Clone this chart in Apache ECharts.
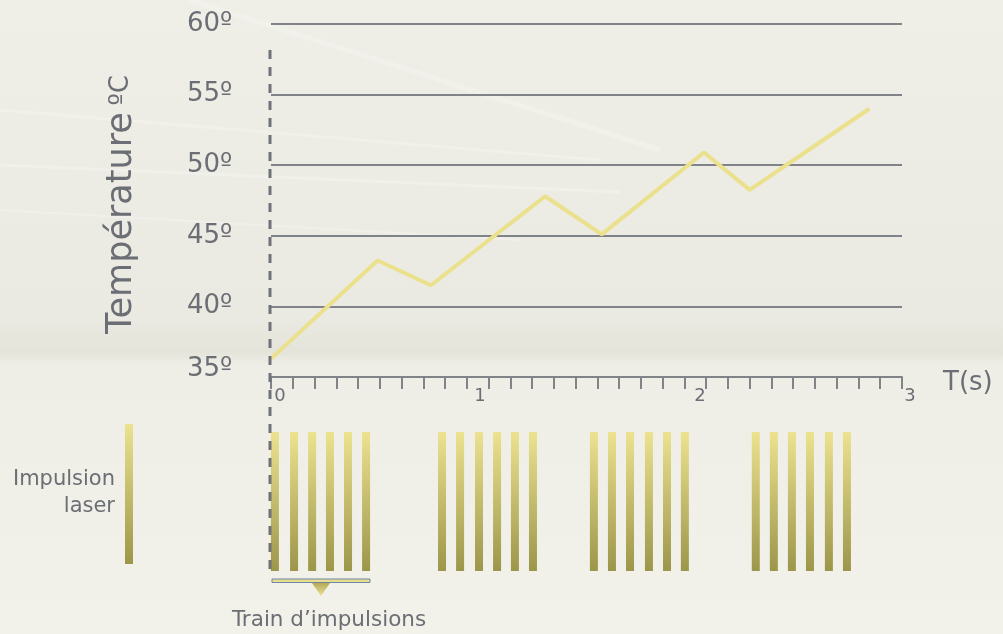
<!DOCTYPE html>
<html>
<head>
<meta charset="utf-8">
<script src="https://cdn.jsdelivr.net/npm/echarts@6/dist/echarts.min.js"></script>
<style>
  html, body { margin: 0; padding: 0; }
  #chart { width: 1003px; height: 634px; }
</style>
</head>
<body>
<div id="chart"></div>
<script>
// temperature curve (time in s, temperature in °C)
const timeSec = [0, 0.49, 0.735, 1.26, 1.52, 1.99, 2.2, 2.75];
const tempC = [36.3, 43.25, 41.5, 47.8, 45.1, 50.9, 48.25, 54.0];

// laser pulses: 4 trains of 6 pulses (time in s)
const pulseTimes = [
  0.018, 0.106, 0.189, 0.271, 0.354, 0.437,
  0.786, 0.869, 0.956, 1.039, 1.121, 1.204,
  1.484, 1.567, 1.650, 1.737, 1.820, 1.902,
  2.228, 2.311, 2.394, 2.477, 2.564, 2.647
];

// axis labels
const timeTickValues = [0, 0.952, 2, 3];
const timeTickLabels = ['0', '1', '2', '3'];
const tempMin = 35, tempMax = 60, tempStep = 5;

const FONT = '"DejaVu Sans", sans-serif';
const GREY = '#6b6e74';
const LINE_GREY = '#808388';

const pulseFill = new echarts.graphic.LinearGradient(0, 0, 0, 1, [
  { offset: 0, color: '#ece28f' },
  { offset: 1, color: '#9c964b' }
]);

// soft light streaks in the background
const streaks = [
  [[190, 0], [660, 150], 5],
  [[0, 110], [600, 160], 3],
  [[0, 165], [620, 192], 3],
  [[0, 210], [520, 240], 2]
].map(([a, b, w]) => ({
  type: 'line',
  shape: { x1: a[0], y1: a[1], x2: b[0], y2: b[1] },
  style: { stroke: 'rgba(255,255,255,0.22)', lineWidth: w, shadowBlur: 8, shadowColor: 'rgba(255,255,255,0.35)' },
  z: -10,
  silent: true
}));

const chart = echarts.init(document.getElementById('chart'), null, { renderer: 'canvas' });

const option = {
  animation: false,
  backgroundColor: new echarts.graphic.LinearGradient(0, 0, 0, 1, [
    { offset: 0, color: '#efeee7' },
    { offset: 0.5, color: '#ebeae2' },
    { offset: 0.555, color: '#e5e4db' },
    { offset: 0.575, color: '#efeee6' },
    { offset: 1, color: '#f2f1ea' }
  ]),
  grid: [
    { left: 271, top: 24, width: 631, height: 353 },
    { left: 271, top: 432, width: 631, height: 139 },
    { left: 280, top: 376, width: 630, height: 1 }
  ],
  xAxis: [
    {
      gridIndex: 0,
      type: 'value',
      min: 0,
      max: 2.9,
      interval: 0.1,
      name: '{n|T(s)}',
      nameLocation: 'end',
      nameGap: 41,
      nameTextStyle: {
        verticalAlign: 'middle',
        rich: { n: { color: GREY, fontSize: 26, fontFamily: FONT, padding: [13, 0, 0, 0] } }
      },
      axisLine: { show: true, lineStyle: { color: LINE_GREY, width: 2 } },
      axisTick: { show: true, length: 12, lineStyle: { color: LINE_GREY, width: 2 } },
      axisLabel: { show: false },
      splitLine: { show: false }
    },
    {
      gridIndex: 1,
      type: 'value',
      min: 0,
      max: 2.9,
      show: false
    },
    {
      gridIndex: 2,
      type: 'value',
      min: 0,
      max: 3,
      axisLine: { show: false },
      axisTick: { show: false },
      splitLine: { show: false },
      axisLabel: {
        show: true,
        customValues: timeTickValues,
        formatter: v => timeTickLabels[timeTickValues.indexOf(v)],
        color: GREY,
        fontSize: 18,
        fontFamily: FONT,
        margin: 10
      }
    }
  ],
  yAxis: [
    {
      gridIndex: 0,
      type: 'value',
      min: tempMin,
      max: tempMax,
      interval: tempStep,
      name: '{a|Température}  {b|ºC}',
      nameLocation: 'middle',
      nameRotate: 90,
      nameGap: 132,
      nameTextStyle: {
        rich: {
          a: { fontSize: 35, color: GREY, fontFamily: FONT, verticalAlign: 'middle' },
          b: { fontSize: 26, color: GREY, fontFamily: FONT, verticalAlign: 'middle', padding: [0, 8, 0, 0] }
        }
      },
      axisLine: { show: false },
      axisTick: { show: false },
      axisLabel: {
        align: 'left',
        margin: 84,
        color: GREY,
        fontSize: 26,
        fontFamily: FONT,
        formatter: v => (v === tempMin ? '{lo|' + v + 'º}' : v + 'º'),
        rich: {
          lo: { color: GREY, fontSize: 26, fontFamily: FONT, padding: [0, 0, 16, 0] }
        }
      },
      splitLine: { show: true, lineStyle: { color: LINE_GREY, width: 2 } }
    },
    { gridIndex: 1, type: 'value', min: 0, max: 1, show: false },
    { gridIndex: 2, type: 'value', min: 0, max: 1, show: false }
  ],
  series: [
    {
      name: 'Température',
      type: 'line',
      xAxisIndex: 0,
      yAxisIndex: 0,
      data: timeSec.map((t, i) => [t, tempC[i]]),
      symbol: 'none',
      clip: false,
      lineStyle: { color: '#ebe08b', width: 4 },
      z: 5
    },
    {
      name: 'Impulsion laser',
      type: 'bar',
      xAxisIndex: 1,
      yAxisIndex: 1,
      data: pulseTimes.map(t => [t, 1]),
      barWidth: 8,
      itemStyle: { color: pulseFill }
    }
  ],
  graphic: streaks.concat([
    // dashed start marker
    {
      type: 'line',
      shape: { x1: 270, y1: 50, x2: 270, y2: 571 },
      style: { stroke: '#6f7278', lineWidth: 3, lineDash: [9, 8] },
      z: 10
    },
    // legend swatch
    {
      type: 'rect',
      shape: { x: 125, y: 424, width: 8, height: 140 },
      style: { fill: pulseFill }
    },
    {
      type: 'text',
      x: 115,
      y: 493,
      style: {
        text: 'Impulsion\nlaser',
        fill: GREY,
        font: '21px ' + FONT,
        lineHeight: 27,
        align: 'right',
        verticalAlign: 'middle'
      }
    },
    // pulse train bracket
    {
      type: 'rect',
      shape: { x: 272, y: 579, width: 98, height: 3.5 },
      style: { fill: '#e7df8f', stroke: '#6f86a6', lineWidth: 1 }
    },
    {
      type: 'polygon',
      shape: { points: [[312, 583], [330, 583], [321, 596]] },
      style: {
        fill: new echarts.graphic.LinearGradient(0, 0, 0, 1, [
          { offset: 0, color: '#b5aa58' },
          { offset: 1, color: '#ebe196' }
        ])
      }
    },
    {
      type: 'text',
      x: 329,
      y: 620,
      style: {
        text: 'Train d’impulsions',
        fill: GREY,
        font: '21.5px ' + FONT,
        align: 'center',
        verticalAlign: 'middle'
      }
    }
  ])
};

chart.setOption(option);
</script>
</body>
</html>
